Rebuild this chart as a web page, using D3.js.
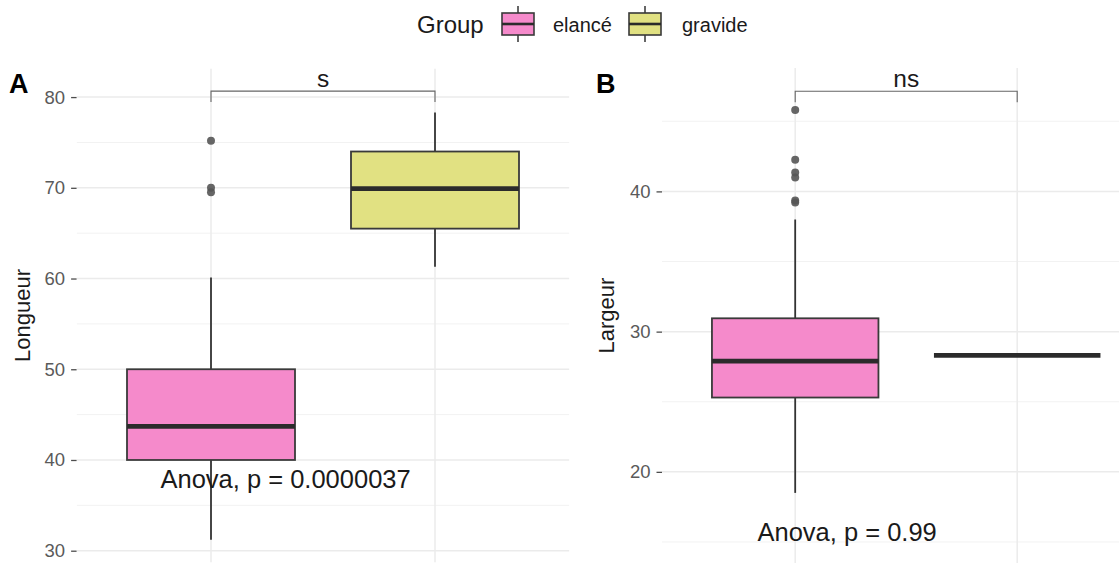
<!DOCTYPE html>
<html>
<head>
<meta charset="utf-8">
<script src="https://cdn.jsdelivr.net/npm/d3@7"></script>
<style>
  html, body { margin: 0; padding: 0; background: #fff; }
  svg { display: block; font-family: "Liberation Sans", Arial, Helvetica, sans-serif; }
</style>
</head>
<body>
<div id="chart"></div>
<script>
// Groups compared in both panels
const groups = ["elancé", "gravide"];
const groupColors = ["#F58ACB", "#E1E182"];

// Box statistics per group: [lower whisker, Q1, median, Q3, upper whisker]
const longueurStats = [
  [31.2, 40.0, 43.7, 50.0, 60.1],
  [61.3, 65.5, 69.9, 74.0, 78.3]
];
const longueurOutliers = [[75.2, 70.0, 69.5], []];

const largeurStats = [
  [18.5, 25.3, 27.9, 30.95, 38.0],
  [28.3, 28.3, 28.3, 28.3, 28.3]
];
const largeurOutliers = [[45.8, 42.25, 41.35, 41.0, 39.35, 39.2], []];

const longueurTicks = [30, 40, 50, 60, 70, 80];
const largeurTicks = [20, 30, 40];

const longueurTest = "Anova, p = 0.0000037";
const largeurTest = "Anova, p = 0.99";
const longueurSignif = "s";
const largeurSignif = "ns";

const W = 1119, H = 563;
const svg = d3.select("#chart").append("svg")
  .attr("width", W).attr("height", H)
  .attr("viewBox", `0 0 ${W} ${H}`);

// Panel layouts
const panels = [
  {
    tag: "A", title: "Longueur", stats: longueurStats, outliers: longueurOutliers,
    ticks: longueurTicks, minor: [35, 45, 55, 65, 75],
    yDomain: [28.7, 83.15], yRange: [562.5, 68.5], xRange: [76.6, 569.4],
    tagX: 9, titleX: 22,
    bracket: { y: 80.66, tip: 79.45, label: longueurSignif },
    test: { text: longueurTest, x: 0.333, y: 36.9 }
  },
  {
    tag: "B", title: "Largeur", stats: largeurStats, outliers: largeurOutliers,
    ticks: largeurTicks, minor: [15, 25, 35, 45],
    yDomain: [13.5, 48.8], yRange: [563, 68], xRange: [662, 1150.4],
    tagX: 596, titleX: 606,
    bracket: { y: 47.14, tip: 46.35, label: largeurSignif },
    test: { text: largeurTest, x: 0.234, y: 15.1 }
  }
];

panels.forEach((p, pi) => {
  const g = svg.append("g");
  const x = d3.scalePoint().domain(groups).range(p.xRange).padding(0.6);
  const y = d3.scaleLinear().domain(p.yDomain).range(p.yRange);
  const step = x.step();
  const boxW = step * 0.75;
  const [x0, x1] = p.xRange;
  const [yb, yt] = p.yRange;

  const clipId = "clip" + pi;
  g.append("clipPath").attr("id", clipId)
    .append("rect").attr("x", x0).attr("y", yt).attr("width", x1 - x0).attr("height", yb - yt);
  const plot = g.append("g").attr("clip-path", `url(#${clipId})`);

  // minor horizontal grid
  plot.selectAll(".minor").data(p.minor).join("line")
    .attr("x1", x0).attr("x2", x1)
    .attr("y1", d => y(d)).attr("y2", d => y(d))
    .attr("stroke", "#F2F2F2").attr("stroke-width", 1);
  // major horizontal grid
  plot.selectAll(".major").data(p.ticks).join("line")
    .attr("x1", x0).attr("x2", x1)
    .attr("y1", d => y(d)).attr("y2", d => y(d))
    .attr("stroke", "#EBEBEB").attr("stroke-width", 1.5);
  // vertical grid at each group
  plot.selectAll(".vgrid").data(groups).join("line")
    .attr("x1", d => x(d)).attr("x2", d => x(d))
    .attr("y1", yt).attr("y2", yb)
    .attr("stroke", "#EBEBEB").attr("stroke-width", 1.5);

  // y axis through d3.axisLeft, styled as a minimal theme
  const axis = g.append("g")
    .attr("transform", `translate(${x0},0)`)
    .call(d3.axisLeft(y).tickValues(p.ticks).tickSize(5.5).tickPadding(6).tickFormat(d3.format("d")));
  axis.select(".domain").remove();
  axis.selectAll(".tick line").attr("stroke", "#4D4D4D").attr("stroke-width", 1.3);
  axis.selectAll(".tick text")
    .attr("fill", "#5a5a5a").style("font-size", "18.5px")
    .style("font-family", "'Liberation Sans', Arial, sans-serif");

  // boxplots
  groups.forEach((grp, i) => {
    const s = p.stats[i];
    const cx = x(grp);
    const col = "#333";
    // whiskers
    plot.append("line").attr("x1", cx).attr("x2", cx)
      .attr("y1", y(s[0])).attr("y2", y(s[1]))
      .attr("stroke", col).attr("stroke-width", 1.8);
    plot.append("line").attr("x1", cx).attr("x2", cx)
      .attr("y1", y(s[3])).attr("y2", y(s[4]))
      .attr("stroke", col).attr("stroke-width", 1.8);
    // box
    plot.append("rect")
      .attr("x", cx - boxW / 2).attr("width", boxW)
      .attr("y", y(s[3])).attr("height", Math.max(0, y(s[1]) - y(s[3])))
      .attr("fill", groupColors[i]).attr("stroke", "#3A3A3A").attr("stroke-width", 1.8);
    // median
    plot.append("line")
      .attr("x1", cx - boxW / 2).attr("x2", cx + boxW / 2)
      .attr("y1", y(s[2])).attr("y2", y(s[2]))
      .attr("stroke", "#2B2B2B").attr("stroke-width", 4.8);
    // outliers
    plot.selectAll(null).data(p.outliers[i]).join("circle")
      .attr("cx", cx).attr("cy", d => y(d)).attr("r", 4)
      .attr("fill", "#555").attr("fill-opacity", 0.9);
  });

  // significance bracket
  const bx0 = x(groups[0]), bx1 = x(groups[1]);
  const bPath = d3.path();
  bPath.moveTo(bx0, y(p.bracket.tip));
  bPath.lineTo(bx0, y(p.bracket.y));
  bPath.lineTo(bx1, y(p.bracket.y));
  bPath.lineTo(bx1, y(p.bracket.tip));
  g.append("path").attr("d", bPath.toString())
    .attr("fill", "none").attr("stroke", "#666").attr("stroke-width", 1.1);
  g.append("text")
    .attr("x", (bx0 + bx1) / 2).attr("y", y(p.bracket.y) - 4.5)
    .attr("text-anchor", "middle").attr("fill", "#1a1a1a")
    .style("font-size", "24.5px").text(p.bracket.label);

  // test label
  g.append("text")
    .attr("x", x(groups[0]) + p.test.x * step).attr("y", y(p.test.y))
    .attr("text-anchor", "middle").attr("fill", "#1a1a1a")
    .style("font-size", "25.5px").text(p.test.text);

  // axis title
  g.append("text")
    .attr("transform", `translate(${p.titleX + 8},${(yt + yb) / 2}) rotate(-90)`)
    .attr("text-anchor", "middle").attr("fill", "#1a1a1a")
    .style("font-size", "22px").text(p.title);

  // panel tag
  g.append("text")
    .attr("x", p.tagX).attr("y", 93)
    .attr("fill", "#000").style("font-size", "27px").style("font-weight", "bold")
    .text(p.tag);
});

// Legend
const legend = svg.append("g");
legend.append("text").attr("x", 417).attr("y", 33)
  .attr("fill", "#1a1a1a").style("font-size", "24px").text("Group");
const keyX = [502, 629];
const labX = [553, 682];
groups.forEach((grp, i) => {
  const kx = keyX[i], kw = 32, cx = kx + kw / 2;
  legend.append("line").attr("x1", cx).attr("x2", cx).attr("y1", 6).attr("y2", 42)
    .attr("stroke", "#333").attr("stroke-width", 1.5);
  legend.append("rect").attr("x", kx).attr("y", 13).attr("width", kw).attr("height", 22)
    .attr("fill", groupColors[i]).attr("stroke", "#3A3A3A").attr("stroke-width", 1.6);
  legend.append("line").attr("x1", kx).attr("x2", kx + kw).attr("y1", 24).attr("y2", 24)
    .attr("stroke", "#2B2B2B").attr("stroke-width", 2.6);
  legend.append("text").attr("x", labX[i]).attr("y", 32)
    .attr("fill", "#1a1a1a").style("font-size", "20px").text(grp);
});
</script>
</body>
</html>
